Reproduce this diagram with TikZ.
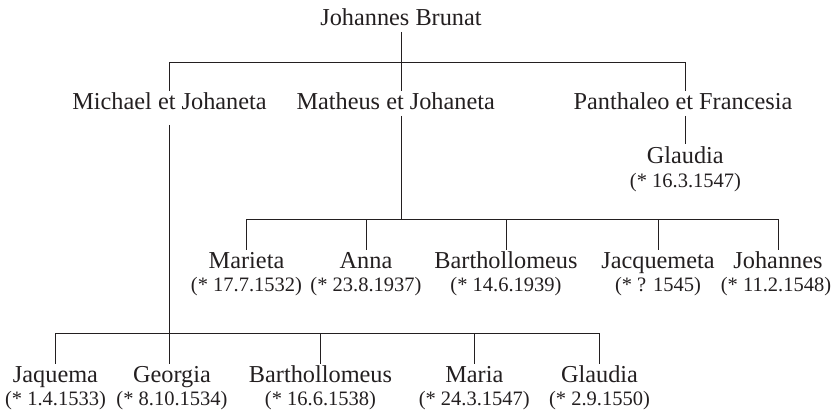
\documentclass[tikz,border=0pt]{standalone}
\usepackage{fontspec}
\setmainfont{Liberation Serif}
\definecolor{ink}{HTML}{231F20}
\begin{document}
\begin{tikzpicture}[x=1pt,y=-1pt,
  person/.style={anchor=base, inner xsep=0pt, inner ysep=0pt, outer xsep=0pt, outer ysep=3pt,
    text height=16pt, text depth=3pt, text=ink, font=\fontsize{24.3}{28}\selectfont},
  born/.style={anchor=base, inner sep=0pt, text=ink, font=\fontsize{20.5}{24}\selectfont},
  link/.style={draw=ink, line width=1pt}]
\useasboundingbox (0,0) rectangle (831,412);

% generation bars
\coordinate (bar1) at (0,62.3);
\coordinate (bar2) at (0,219.3);
\coordinate (bar3) at (0,333.7);

% root and children
\node[person] (root) at (401,26) {Johannes Brunat};
\node[person] (michael) at (169.5,110) {Michael et Johaneta};
\node[person] (matheus) at (395.7,110) {Matheus et Johaneta};
\node[person] (panth) at (683,110) {Panthaleo et Francesia};

% Panthaleo et Francesia
\node[person] (glaudiaP) at (685.3,163) {Glaudia};
\node[born] (glaudiaPd) at (685.5,187) {(* 16.3.1547)};

% Matheus et Johaneta
\node[person] (marieta) at (246.5,268.7) {Marieta};
\node[born] (marietad) at (246.5,291) {(* 17.7.1532)};
\node[person] (anna) at (366,268.7) {Anna};
\node[born] (annad) at (366,291) {(* 23.8.1937)};
\node[person] (bartM) at (506,268.7) {Barthollomeus};
\node[born] (bartMd) at (506,291) {(* 14.6.1939)};
\node[person] (jacq) at (658,268.7) {Jacquemeta};
\node[born] (jacqd) at (658,291) {(* ? 1545)};
\node[person] (johannes) at (778,268.7) {Johannes};
\node[born] (johannesd) at (776,291) {(* 11.2.1548)};

% Michael et Johaneta
\node[person] (jaquema) at (55.5,382.7) {Jaquema};
\node[born] (jaquemad) at (55.5,405) {(* 1.4.1533)};
\node[person] (georgia) at (172,382.7) {Georgia};
\node[born] (georgiad) at (172,405) {(* 8.10.1534)};
\node[person] (bartG) at (320.5,382.7) {Barthollomeus};
\node[born] (bartGd) at (320.5,405) {(* 16.6.1538)};
\node[person] (maria) at (474.3,382.7) {Maria};
\node[born] (mariad) at (474.3,405) {(* 24.3.1547)};
\node[person] (glaudiaM) at (599.5,382.7) {Glaudia};
\node[born] (glaudiaMd) at (599.5,405) {(* 2.9.1550)};

% first generation
\draw[link] (root.south) -- (root.south |- matheus.north);
\draw[link] (michael.north) -- (michael.north |- bar1) -- (glaudiaP.north |- bar1) -- (glaudiaP.north |- panth.north);
\draw[link] (glaudiaP.north |- panth.south) -- (glaudiaP.north);

% children of Matheus
\draw[link] (root.south |- matheus.south) -- (root.south |- bar2);
\draw[link] (marieta.north) -- (marieta.north |- bar2) -- (johannes.north |- bar2) -- (johannes.north);
\draw[link] (anna.north) -- (anna.north |- bar2);
\draw[link] (bartM.north) -- (bartM.north |- bar2);
\draw[link] (jacq.north) -- (jacq.north |- bar2);

% children of Michael
\draw[link] ([yshift=-9pt]michael.south) -- (michael.south |- georgia.north);
\draw[link] (jaquema.north) -- (jaquema.north |- bar3) -- (glaudiaM.north |- bar3) -- (glaudiaM.north);
\draw[link] (bartG.north) -- (bartG.north |- bar3);
\draw[link] (maria.north) -- (maria.north |- bar3);
\end{tikzpicture}
\end{document}
